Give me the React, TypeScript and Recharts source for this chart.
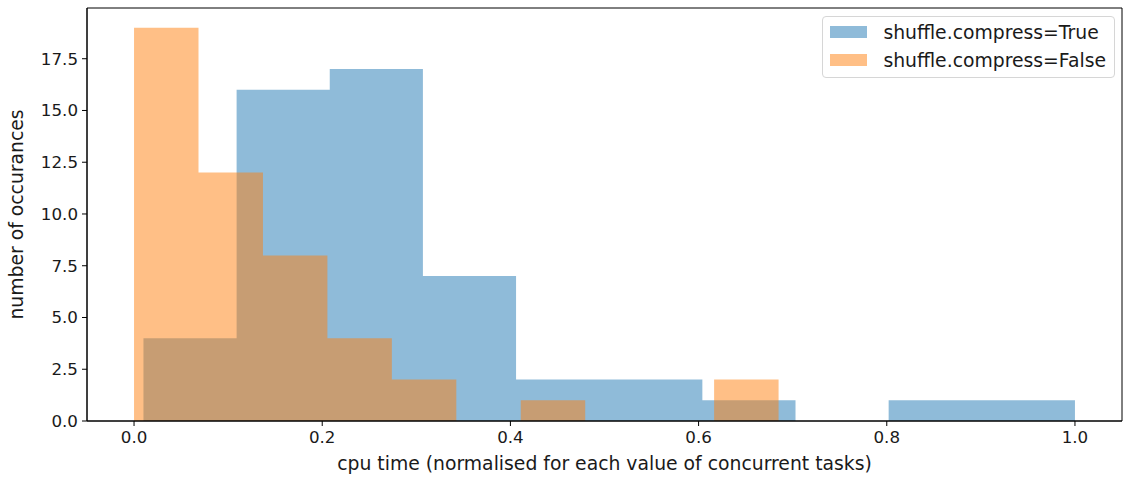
import React from 'react';
import { ComposedChart, Area, XAxis, YAxis, Legend, ReferenceArea, Label } from 'recharts';

// bin edges and counts
const trueEdges = [0.010, 0.109, 0.208, 0.307, 0.406, 0.505, 0.604, 0.703, 0.802, 0.901, 1.0];
const trueCounts = [4, 16, 17, 7, 2, 2, 1, 0, 1, 1];
const falseEdges = [0.0, 0.0685, 0.137, 0.2055, 0.274, 0.3425, 0.411, 0.4795, 0.548, 0.6165, 0.685];
const falseCounts = [19, 12, 8, 4, 2, 0, 1, 0, 0, 2];

const xTicks = [0, 0.2, 0.4, 0.6, 0.8, 1.0];
const yTicks = [0, 2.5, 5, 7.5, 10, 12.5, 15, 17.5];

const BLUE = '#1f77b4';
const ORANGE = '#ff7f0e';
const FONT = "'DejaVu Sans', sans-serif";
const TEXT = '#1a1a1a';

// value of a step series at x (null outside its range)
const countAt = (edges: number[], counts: number[], x: number) => {
  if (x < edges[0] || x > edges[edges.length - 1]) return null;
  for (let i = 0; i < counts.length; i++) {
    if (x >= edges[i] && x < edges[i + 1]) return counts[i];
  }
  return counts[counts.length - 1];
};

const xs = Array.from(new Set([...trueEdges, ...falseEdges])).sort((a, b) => a - b);
const data = xs.map((x) => ({
  x,
  compressTrue: countAt(trueEdges, trueCounts, x),
  compressFalse: countAt(falseEdges, falseCounts, x),
}));

const XTitle = (props: any) => {
  const { x, y, width } = props.viewBox;
  return (
    <text x={x + width / 2} y={y + 42} textAnchor="middle" dominantBaseline="central"
      fontFamily={FONT} fontSize={18.8} fill={TEXT}>
      cpu time (normalised for each value of concurrent tasks)
    </text>
  );
};

const YTitle = (props: any) => {
  const { x, y, height } = props.viewBox;
  const cx = x - 10.5;
  const cy = y + height / 2;
  return (
    <text x={cx} y={cy} textAnchor="middle" dominantBaseline="central" transform={`rotate(-90, ${cx}, ${cy})`}
      fontFamily={FONT} fontSize={18.8} fill={TEXT}>
      number of occurances
    </text>
  );
};

const HistLegend = () => (
  <div style={{
    border: '1px solid #d6d6d6', borderRadius: 4, background: 'rgba(255,255,255,0.8)',
    padding: '1px 8px 3px 7px', fontFamily: FONT, fontSize: 18.8, color: TEXT,
  }}>
    {[{ name: 'shuffle.compress=True', color: BLUE }, { name: 'shuffle.compress=False', color: ORANGE }].map((s) => (
      <div key={s.name} style={{ display: 'flex', alignItems: 'center', height: 28 }}>
        <span style={{ width: 37, height: 12, background: s.color, opacity: 0.5, display: 'inline-block' }} />
        <span style={{ marginLeft: 16, whiteSpace: 'nowrap' }}>{s.name}</span>
      </div>
    ))}
  </div>
);

export default function App() {
  return (
    <div style={{ position: 'absolute', left: 0, top: 0, background: '#fff' }}>
      <ComposedChart width={1125} height={477} data={data} margin={{ top: 8, right: 3, left: 27, bottom: 0 }}>
        <XAxis dataKey="x" type="number" domain={[-0.05, 1.05]} ticks={xTicks} allowDataOverflow
          tickFormatter={(v: number) => v.toFixed(1)} height={56} tickSize={5} tickMargin={5}
          stroke="#000" tick={{ fill: TEXT, fontSize: 16.7, fontFamily: FONT }}>
          <Label content={XTitle} />
        </XAxis>
        <YAxis type="number" domain={[0, 19.95]} ticks={yTicks} allowDataOverflow
          tickFormatter={(v: number) => v.toFixed(1)} width={60} tickSize={5} tickMargin={4}
          stroke="#000" tick={{ fill: TEXT, fontSize: 16.7, fontFamily: FONT }}>
          <Label content={YTitle} />
        </YAxis>
        <Area dataKey="compressTrue" name="shuffle.compress=True" type="stepAfter" fill={BLUE} fillOpacity={0.5}
          stroke="none" dot={false} activeDot={false} isAnimationActive={false} />
        <Area dataKey="compressFalse" name="shuffle.compress=False" type="stepAfter" fill={ORANGE} fillOpacity={0.5}
          stroke="none" dot={false} activeDot={false} isAnimationActive={false} />
        <ReferenceArea x1={-0.05} x2={1.05} y1={0} y2={19.95} fill="none" stroke="#000" strokeWidth={1} ifOverflow="visible" />
        <Legend layout="vertical" align="center" verticalAlign="middle" content={<HistLegend />}
          wrapperStyle={{ top: 16, right: 10, left: 'auto', width: 'auto' }} />
      </ComposedChart>
    </div>
  );
}
